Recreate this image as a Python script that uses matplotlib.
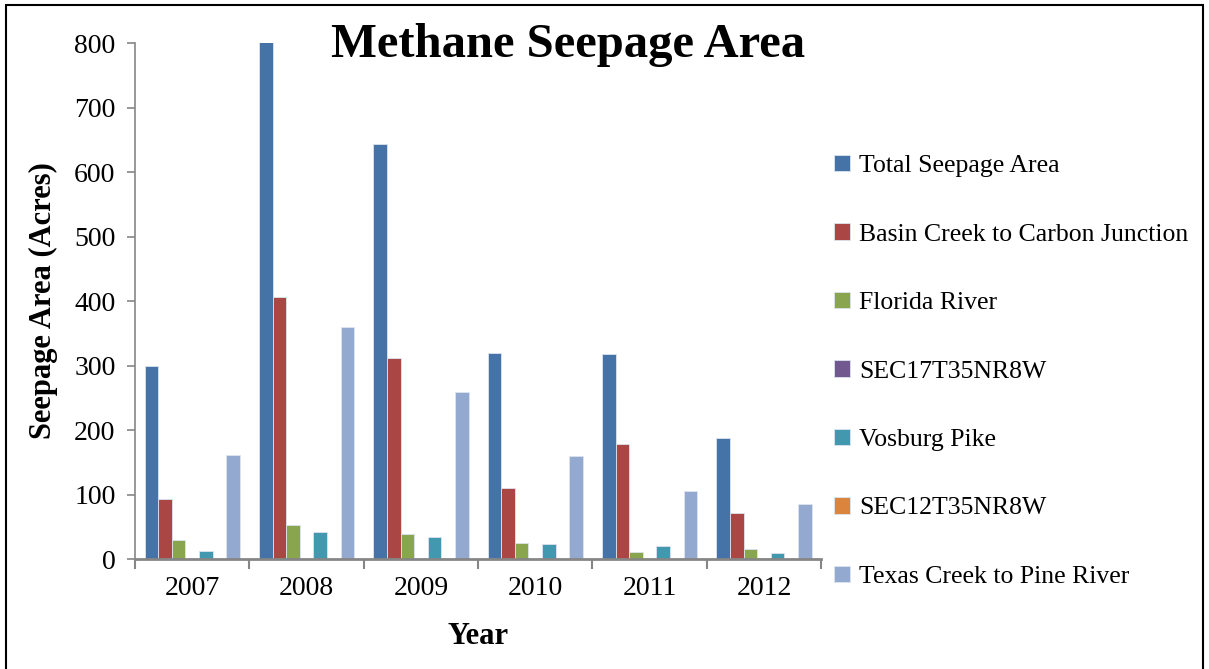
import numpy as np
import matplotlib
matplotlib.use("Agg")
import matplotlib.pyplot as plt
from matplotlib.patches import Rectangle

years = ["2007", "2008", "2009", "2010", "2011", "2012"]
series = [
    "Total Seepage Area",
    "Basin Creek to Carbon Junction",
    "Florida River",
    "SEC17T35NR8W",
    "Vosburg Pike",
    "SEC12T35NR8W",
    "Texas Creek to Pine River",
]
total = [300, 802, 644, 319, 318, 188]
basin = [93, 406, 312, 110, 179, 72]
florida = [29, 52, 39, 25, 11, 15]
sec17 = [0, 0, 0, 0, 0, 2]
vosburg = [13, 42, 34, 23, 20, 10]
sec12 = [0, 0, 0, 0, 0, 0]
texas = [162, 359, 259, 160, 106, 86]
values = [total, basin, florida, sec17, vosburg, sec12, texas]
colors = ["#4572A7", "#AA4643", "#89A54E", "#71588F", "#4198AF", "#DB843D", "#93A9CF"]

plt.rcParams['font.family'] = ['Liberation Serif', 'DejaVu Serif']

fig = plt.figure(figsize=(12.09, 6.69), dpi=100)
ax = fig.add_axes([0.1117, 0.1644, 0.5675, 0.7713])

x = np.arange(len(years))
width = 0.119
for i, (name, vals) in enumerate(zip(series, values)):
    offs = (i - 3) * width
    ax.bar(x + offs, vals, width, color=colors[i], label=name,
           edgecolor="#dde4ee", linewidth=0.6)

grey = "#868686"
ax.set_xlim(-0.5, len(years) - 0.5)
ax.set_ylim(0, 800)
ax.set_yticks(range(0, 801, 100))
ax.set_xticks(x)
ax.set_xticklabels(years)
ax.set_xticks(np.arange(-0.5, len(years), 1), minor=True)
ax.tick_params(axis="x", which="major", length=0, pad=12, labelsize=20)
ax.tick_params(axis="x", which="minor", length=7, width=1.5, color=grey)
ax.tick_params(axis="y", length=6, width=1.2, color=grey, labelsize=20, pad=8)
for s in ["top", "right"]:
    ax.spines[s].set_visible(False)
for s in ["left", "bottom"]:
    ax.spines[s].set_color(grey)
ax.spines["left"].set_linewidth(1.2)
ax.spines["bottom"].set_linewidth(2)

ax.set_ylabel("Seepage Area (Acres)", fontsize=22, fontweight="bold", labelpad=12)
ax.set_xlabel("Year", fontsize=22, fontweight="bold", labelpad=15)
fig.text(0.47, 0.932, "Methane Seepage Area", fontsize=35, fontweight="bold",
         ha="center", va="center")

fig.legend(loc="upper left", bbox_to_anchor=(0.671, 0.803), frameon=False,
           fontsize=18.5, handlelength=0.6, handleheight=0.6, handletextpad=0.35,
           labelspacing=1.8)

fig.add_artist(Rectangle((6 / 1209, -0.01), 1197 / 1209, 1 - 5 / 669 + 0.01,
                         transform=fig.transFigure, fill=False,
                         edgecolor="black", linewidth=1.5))

fig.savefig("out.png", dpi=100)
